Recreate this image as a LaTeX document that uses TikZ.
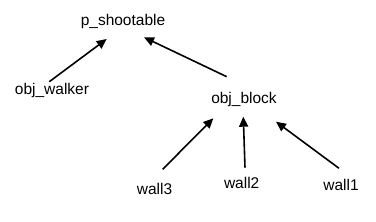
\documentclass[tikz,border=0pt]{standalone}
\usepackage{fontspec}
\setmainfont{Liberation Sans}
\usetikzlibrary{arrows.meta,calc}
\begin{document}
\begin{tikzpicture}[x={(1pt,0)},y={(0,-1pt)},
  lbl/.style={anchor=base,inner sep=0pt,font=\fontsize{15.5}{18}\selectfont},
  arr/.style={line width=1.6pt,-{Triangle[length=10pt,width=9pt]}}]
\useasboundingbox (0,0) rectangle (376,222);
\node[lbl] (p) at (123,25.7) {p\_shootable};
\node[lbl] (w) at (52,95) {obj\_walker};
\node[lbl] (b) at (244,103.7) {obj\_block};
\node[lbl] (w3) at (154.5,195) {wall3};
\node[lbl] (w2) at (241.7,189) {wall2};
\node[lbl] (w1) at (341,190.7) {wall1};
\draw[arr] ($(w.base)+(-2.7,-13.3)$) -- ($(p.base)+(-16.3,13.3)$);
\draw[arr] ($(b.base)+(-17.3,-27)$) -- ($(p.base)+(21,11.6)$);
\draw[arr] ($(w3.base)+(8.2,-25.7)$) -- ($(b.base)+(-30.7,14.6)$);
\draw[arr] ($(w2.base)+(3.3,-21.3)$) -- ($(b.base)+(-0.7,13)$);
\draw[arr] ($(w1.base)+(-2,-22.4)$) -- ($(b.base)+(32,18)$);
\end{tikzpicture}
\end{document}
